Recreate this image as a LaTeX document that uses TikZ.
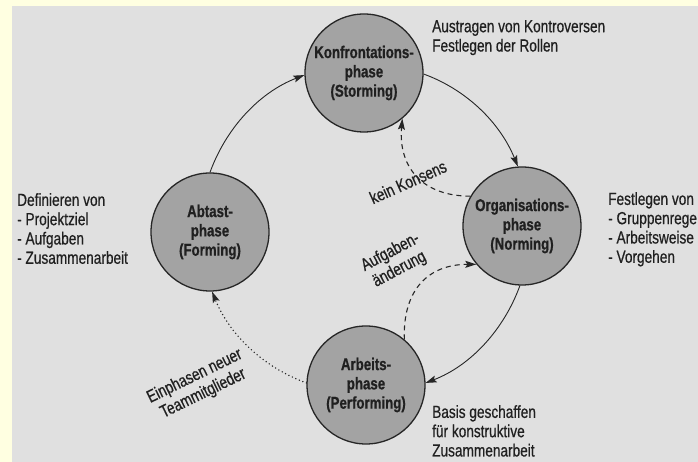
\documentclass[tikz,border=0pt]{standalone}
\usepackage{fontspec}
\setmainfont[FakeStretch=0.78,
  UprightFeatures={FakeBold=0.6},
  BoldFeatures={FakeBold=0.8}]{Liberation Sans}
\usetikzlibrary{arrows.meta}

\definecolor{pageyellow}{HTML}{FFFFE1}
\definecolor{paper}{HTML}{E0E0E0}
\definecolor{disc}{HTML}{A3A3A3}
\definecolor{ink}{HTML}{202020}
\definecolor{rim}{HTML}{262626}

\tikzset{
  phase/.style={circle, draw=rim, line width=1.3pt, fill=disc,
    minimum size=118pt, inner sep=0pt},
  phasetext/.style={align=center, inner sep=0pt, text=ink,
    font=\fontsize{17}{19.3}\selectfont\bfseries},
  note/.style={align=left, inner sep=0pt, anchor=north west, text=ink,
    font=\fontsize{17.5}{19.3}\selectfont},
  tag/.style={align=center, inner sep=0pt, text=ink,
    font=\fontsize{17.5}{19.3}\selectfont},
  tip/.style={-{Stealth[length=11pt,width=7pt,inset=2pt]}},
  flow/.style={tip, draw=rim, line width=0.9pt},
  loop/.style={tip, draw=rim, line width=1.1pt, dash pattern=on 5pt off 4pt},
  newcomer/.style={tip, draw=rim, line width=1.6pt, line cap=round,
    dash pattern=on 0pt off 3.8pt},
}

\begin{document}
\begin{tikzpicture}[x=1pt,y=1pt]
  % page and scanned sheet
  \fill[pageyellow] (0,0) rectangle (698,462);
  \fill[paper] (12,0) rectangle (698,456);
  \useasboundingbox (0,0) rectangle (698,462);

  % the four team phases
  \node[phase] (A) at (210,230) {};
  \node[phase] (S) at (364,389) {};
  \node[phase] (N) at (522,236) {};
  \node[phase] (P) at (366,77) {};
  \node[phasetext] (At) at (A) {Abtast-\\phase\\(Forming)};
  \node[phasetext] (St) at (S) {Konfrontations-\\phase\\(Storming)};
  \node[phasetext] (Nt) at (N) {Organisations-\\phase\\(Norming)};
  \node[phasetext] (Pt) at (P) {Arbeits-\\phase\\(Performing)};

  % main cycle
  \draw[flow] (A.90) to[out=70,in=201,looseness=0.9] (S.182);
  \draw[flow] (S.-1) to[out=-20,in=112,looseness=0.9] (N.94);
  \draw[flow] (N.268) to[out=-110,in=21,looseness=0.9] (P.2);
  \draw[newcomer] (P.178) to[out=160,in=292,looseness=0.9] (A.272);

  % feedback loops
  \draw[loop] (N.150) to[out=180,in=-95,looseness=1.2] (S.-50);
  \draw[loop] (P.50) to[out=92,in=180,looseness=1.2] (N.220);

  % loop labels
  \node[tag, rotate=24] (kk) at (408,280) {kein Konsens};
  \node[tag, rotate=28] (ag) at (395,201) {Aufgaben-\\änderung};
  \node[tag, rotate=26] (ei) at (199,77) {Einphasen neuer\\Teammitglieder};

  % descriptions beside the phases
  \node[note] (dS) at (432,442) {Austragen von Kontroversen\\Festlegen der Rollen};
  \node[note] (dN) at (608,270) {Festlegen von\\- Gruppenrege\\- Arbeitsweise\\- Vorgehen};
  \node[note] (dA) at (17,269) {Definieren von\\- Projektziel\\- Aufgaben\\- Zusammenarbeit};
  \node[note] (dP) at (432,57) {Basis geschaffen\\für konstruktive\\Zusammenarbeit};
\end{tikzpicture}
\end{document}
